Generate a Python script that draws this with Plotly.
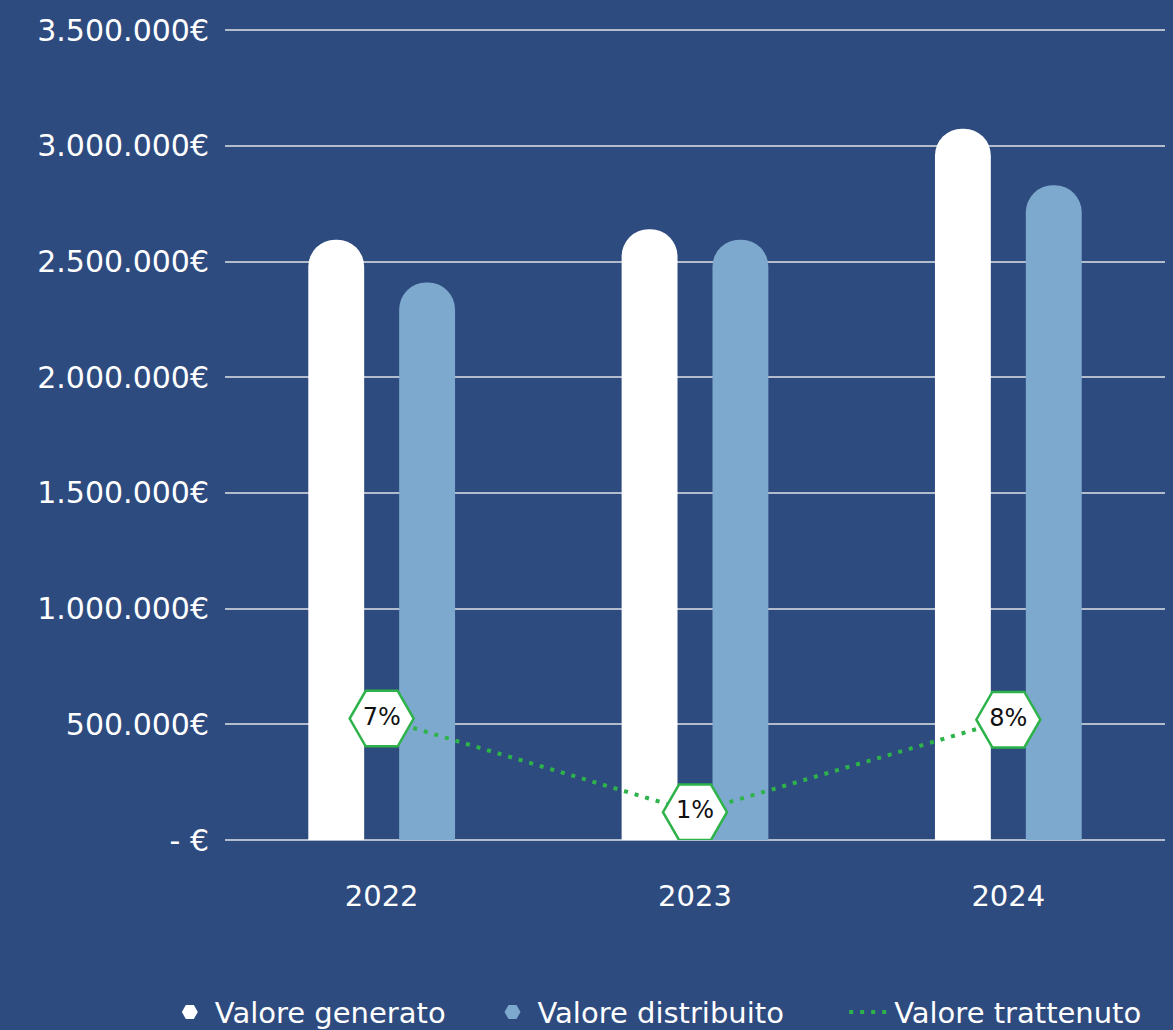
import plotly.graph_objects as go

years = ["2022", "2023", "2024"]
valore_generato = [2595000, 2640000, 3075000]
valore_distribuito = [2410000, 2595000, 2830000]
valore_trattenuto_pos = [525000, 120000, 520000]
valore_trattenuto_lbl = ["7%", "1%", "8%"]

y_tickvals = [0, 500000, 1000000, 1500000, 2000000, 2500000, 3000000, 3500000]
y_ticktext = ["- €", "500.000€", "1.000.000€", "1.500.000€", "2.000.000€",
              "2.500.000€", "3.000.000€", "3.500.000€"]

BG = "#2E4B7F"
WHITE = "#FFFFFF"
LIGHT = "#7EA9CE"
GREEN = "#2DB34A"
FONT = "DejaVu Sans"

fig = go.Figure()
fig.add_trace(go.Bar(x=years, y=valore_generato, name="Valore generato",
                     marker=dict(color=WHITE, cornerradius="50%", line=dict(width=0)),
                     showlegend=False))
fig.add_trace(go.Bar(x=years, y=valore_distribuito, name="Valore distribuito",
                     marker=dict(color=LIGHT, cornerradius="50%", line=dict(width=0)),
                     showlegend=False))
fig.add_trace(go.Scatter(x=years, y=valore_trattenuto_pos, name="Valore trattenuto",
                         mode="lines+markers+text", text=valore_trattenuto_lbl,
                         textposition="middle center",
                         textfont=dict(family=FONT, size=24, color="#111111"),
                         line=dict(color=GREEN, width=4, dash="4px,7px"),
                         marker=dict(symbol="hexagon2", size=64, color=WHITE,
                                     line=dict(color=GREEN, width=2.5)),
                         showlegend=False))
# legend entries
fig.add_trace(go.Scatter(x=[None], y=[None], mode="markers", name="Valore generato    ",
                         marker=dict(symbol="hexagon2", size=30, color=WHITE)))
fig.add_trace(go.Scatter(x=[None], y=[None], mode="markers", name="Valore distribuito      ",
                         marker=dict(symbol="hexagon2", size=30, color=LIGHT)))
fig.add_trace(go.Scatter(x=[None], y=[None], mode="lines", name="Valore trattenuto",
                         line=dict(color=GREEN, width=4, dash="4px,7px")))

fig.update_layout(
    width=1173, height=1030,
    paper_bgcolor=BG, plot_bgcolor=BG,
    margin=dict(l=225, r=8, t=28, b=190, autoexpand=False),
    barmode="group", bargap=0.42, bargroupgap=0.385,
    font=dict(family=FONT, color=WHITE, size=27),
    showlegend=True,
    legend=dict(orientation="h", x=-0.064, xanchor="left",
                y=-0.212, yanchor="middle",
                font=dict(family=FONT, size=29, color=WHITE),
                itemsizing="trace", bgcolor="rgba(0,0,0,0)", itemwidth=40,
                tracegroupgap=0),
)
fig.update_xaxes(type="category", showgrid=False, showline=False, zeroline=False,
                 ticks="", tickfont=dict(family=FONT, size=29, color=WHITE),
                 ticklabelstandoff=36, automargin=False)
fig.update_yaxes(range=[0, 3510000], tickvals=y_tickvals, ticktext=y_ticktext,
                 showgrid=True, gridcolor="#B3BCCD", gridwidth=2,
                 zeroline=True, zerolinecolor="#B3BCCD", zerolinewidth=2,
                 showline=False, ticks="", ticklabelstandoff=15, automargin=False,
                 tickfont=dict(family=FONT, size=30, color=WHITE))

fig.write_html("out.html", config={"displayModeBar": False},
               post_script="document.body.style.margin='0';document.body.style.background='#2E4B7F';")
